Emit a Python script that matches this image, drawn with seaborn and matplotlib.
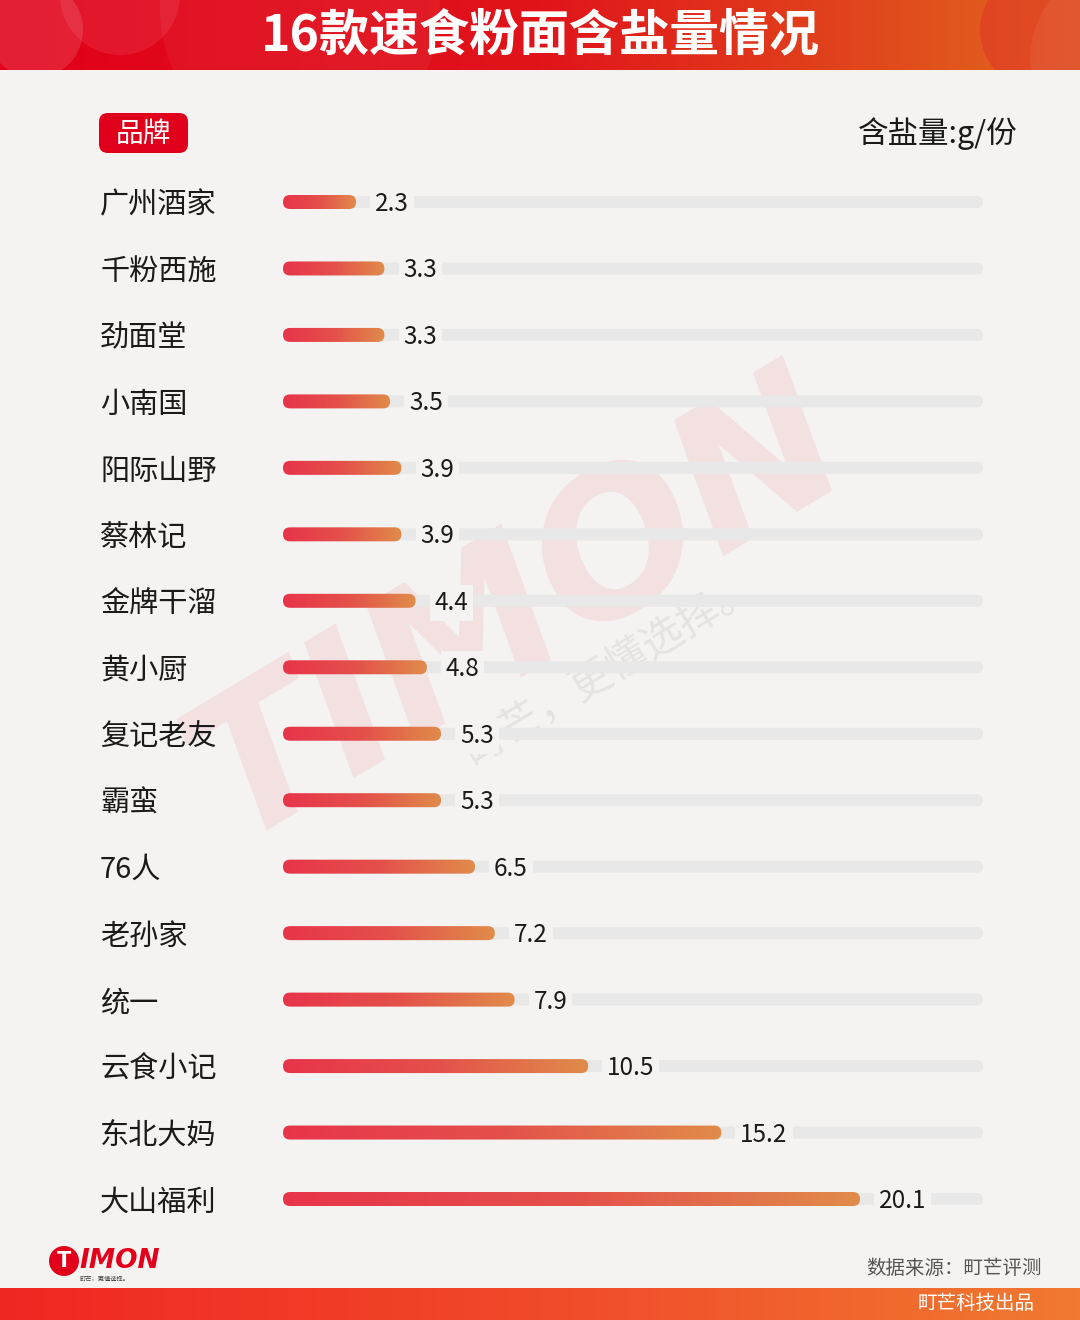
import matplotlib
matplotlib.use("Agg")
import matplotlib.pyplot as plt
import numpy as np
import seaborn as sns
from matplotlib.colors import LinearSegmentedColormap
from matplotlib.patches import FancyBboxPatch, Circle
from matplotlib.transforms import IdentityTransform

brands = [
    "广州酒家", "千粉西施", "劲面堂", "小南国", "阳际山野", "蔡林记", "金牌干溜", "黄小厨",
    "复记老友", "霸蛮", "76人", "老孙家", "统一", "云食小记", "东北大妈", "大山福利",
]
salt = [2.3, 3.3, 3.3, 3.5, 3.9, 3.9, 4.4, 4.8, 5.3, 5.3, 6.5, 7.2, 7.9, 10.5, 15.2, 20.1]

title = "16款速食粉面含盐量情况"
unit_label = "含盐量:g/份"
tag_label = "品牌"
source_label = "数据来源：町芒评测"
maker_label = "町芒科技出品"

W, H = 1080, 1320
bg = "#F4F3F1"

sns.set_theme(style="white")
plt.rcParams["font.family"] = ["Noto Sans CJK SC", "DejaVu Sans"]

bar_cmap = LinearSegmentedColormap.from_list("bar", ["#E8344A", "#E4504A", "#E08C4A"])
head_cmap = LinearSegmentedColormap.from_list("head", ["#E2001A", "#E0141A", "#E0681E"])
foot_cmap = LinearSegmentedColormap.from_list("foot", ["#F02622", "#F04A2A", "#F07A30"])


def fy(y):
    # image pixel row -> figure fraction
    return 1 - y / H


fig = plt.figure(figsize=(W / 100, H / 100), dpi=100, facecolor=bg)

# header band
hdr = fig.add_axes([0, fy(70), 1, 70 / H])
hdr.imshow(np.linspace(0, 1, 256)[None, :], cmap=head_cmap, extent=[0, W, 0, 70], aspect="auto")
for (cx, cy, r, c, a) in [(35, 40, 48, "white", 0.12), (120, 75, 60, "white", 0.08),
                          (300, 60, 140, "white", 0.05), (1040, 40, 60, "#E02030", 0.35),
                          (1130, 10, 100, "white", 0.06)]:
    hdr.add_patch(Circle((cx, cy), r, fc=c, ec="none", alpha=a))
hdr.set_xlim(0, W)
hdr.set_ylim(0, 70)
hdr.axis("off")
fig.text(540 / W, fy(36), title, ha="center", va="center", fontsize=36,
         fontweight="bold", color="white")

# footer band
ftr = fig.add_axes([0, 0, 1, 32 / H])
ftr.imshow(np.linspace(0, 1, 256)[None, :], cmap=foot_cmap, extent=[0, W, 0, 32], aspect="auto")
ftr.set_xlim(0, W)
ftr.set_ylim(0, 32)
ftr.axis("off")
fig.text(1035 / W, fy(1303), maker_label, ha="right", va="center", fontsize=14, color="white")
fig.text(1042 / W, fy(1269), source_label, ha="right", va="center", fontsize=14, color="#555555")

# watermark
fig.text(520 / W, fy(610), "TIMON", rotation=31, fontsize=140, fontweight="bold", style="italic",
         family="DejaVu Sans", color="#E8001A", alpha=0.08, ha="center", va="center", zorder=0.5)
fig.text(610 / W, fy(670), "町芒，更懂选择。", rotation=31, fontsize=30, color="#888888",
         alpha=0.15, ha="center", va="center", zorder=0.5)

# logo
fig.add_artist(Circle((64, H - 1261), 15, fc="#E2001A", ec="none", transform=IdentityTransform()))
fig.text(64 / W, fy(1261), "T", ha="center", va="center", fontsize=15, fontweight="bold",
         family="DejaVu Sans", color="white")
fig.text(79 / W, fy(1261), "IMON", ha="left", va="center", fontsize=19, fontweight="bold",
         style="italic", family="DejaVu Sans", color="#E2001A")
fig.text(80 / W, fy(1279), "町芒，更懂选择。", ha="left", va="center", fontsize=4.5, color="#444444")

# tag + unit
fig.add_artist(FancyBboxPatch((99, H - 153), 89, 40, boxstyle="round,pad=0,rounding_size=9",
                              fc="#E0001B", ec="none", transform=IdentityTransform()))
fig.text(143 / W, fy(134), tag_label, ha="center", va="center", fontsize=20, color="white")
fig.text(1018 / W, fy(134), unit_label, ha="right", va="center", fontsize=22, color="#1A1A1A")

# main chart: data x=0 sits at pixel 291, 28.31 px per unit
px_per = 28.31
x0_px, x_end_px = 283, 983
row_top, row_bot = 202, 1199
step = (row_bot - row_top) / 15
ax = fig.add_axes([x0_px / W, fy(row_bot + step / 2), (x_end_px - x0_px) / W,
                   (row_bot - row_top + step) / H])
ax.set_zorder(1)
sns.barplot(x=salt, y=brands, orient="h", width=0.2, color="#E63C45", ax=ax)
ax.set_xlim((x0_px - 291) / px_per, (x_end_px - 291) / px_per)
ax.set_ylim(15.5, -0.5)
ax.patch.set_alpha(0)
for s in ax.spines.values():
    s.set_visible(False)
ax.set_xticks([])
ax.set_xlabel("")
ax.set_ylabel("")
ax.set_yticks(range(len(brands)))
ax.set_yticklabels(brands, ha="left", fontsize=21, color="#1A1A1A")
ax.tick_params(axis="y", length=0, pad=(x0_px - 100) * 0.72)

left_x = ax.get_xlim()[0]
for p, v in zip(ax.patches, salt):
    p.set_visible(False)
    yc = p.get_y() + p.get_height() / 2
    lx, yd = ax.transData.transform((left_x, yc))
    rx = ax.transData.transform((v, yc))[0]
    track = FancyBboxPatch((lx, yd - 6), x_end_px - lx, 12, boxstyle="round,pad=0,rounding_size=6",
                           fc="#E8E8E8", ec="none", transform=IdentityTransform(), zorder=1)
    ax.add_patch(track)
    bar = FancyBboxPatch((lx, yd - 7), rx - lx, 14, boxstyle="round,pad=0,rounding_size=7",
                         fc="none", ec="none", transform=IdentityTransform(), zorder=2)
    ax.add_patch(bar)
    im = ax.imshow(np.linspace(0, 1, 256)[None, :], cmap=bar_cmap, aspect="auto",
                   extent=(left_x, v, yc + 0.15, yc - 0.15), zorder=2)
    im.set_clip_path(bar)
    ax.annotate(f"{v}", xy=(v, yc), xytext=(19, -2), textcoords="offset pixels",
                ha="left", va="center", fontsize=17.5, color="#1A1A1A", zorder=3,
                bbox=dict(boxstyle="square,pad=0.2", fc=bg, ec="none"))

ax.set_xlim((x0_px - 291) / px_per, (x_end_px - 291) / px_per)
ax.set_ylim(15.5, -0.5)

fig.savefig("out.png", dpi=100, facecolor=bg)
